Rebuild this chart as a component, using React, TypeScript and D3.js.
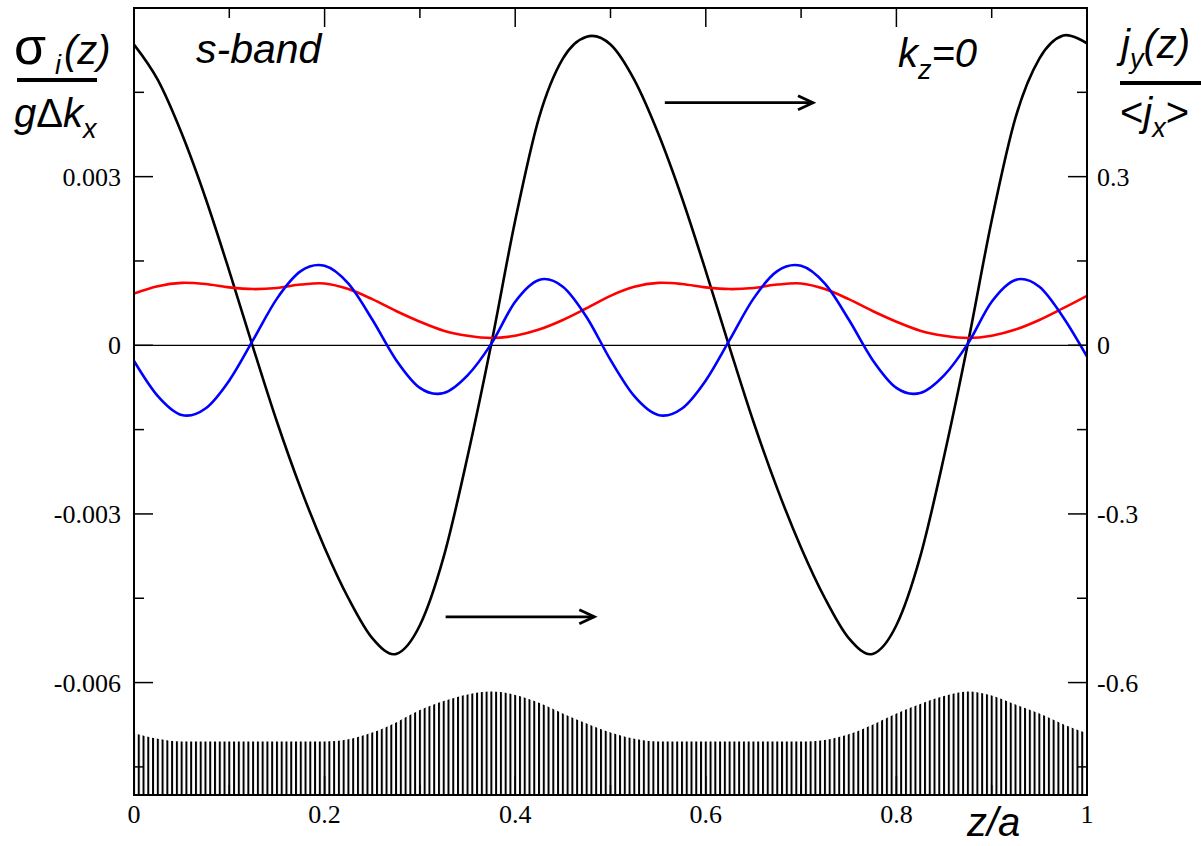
import React from 'react';
import * as d3 from 'd3';

// Sample positions along the unit cell (z/a)
const zSamples = [
  0, 0.025, 0.05, 0.075, 0.1, 0.125, 0.15, 0.175, 0.2, 0.225,
  0.25, 0.275, 0.3, 0.325, 0.35, 0.375, 0.4, 0.425, 0.45, 0.475,
  0.5, 0.525, 0.55, 0.575, 0.6, 0.625, 0.65, 0.675, 0.7, 0.725,
  0.75, 0.775, 0.8, 0.825, 0.85, 0.875, 0.9, 0.925, 0.95, 0.975, 1,
];

// Current density j_y(z)/<j_x> (right axis)
const currentJy = [
  0.535, 0.472, 0.377, 0.262, 0.132, -0.004, -0.136, -0.255, -0.36, -0.45,
  -0.521, -0.549, -0.498, -0.376, -0.198, 0.003, 0.222, 0.405, 0.51, 0.549,
  0.535, 0.472, 0.377, 0.262, 0.132, -0.004, -0.136, -0.255, -0.36, -0.45,
  -0.521, -0.549, -0.498, -0.376, -0.198, 0.003, 0.222, 0.405, 0.51, 0.551, 0.537,
];

// Spin-Hall conductivity component (blue, left axis)
const sigmaBlue = [
  -0.00028, -0.000905, -0.00124, -0.001125, -0.000625, 0.000095, 0.00083, 0.001318, 0.001413, 0.001095,
  0.000458, -0.00026, -0.000758, -0.000849, -0.000535, 0.00003, 0.000775, 0.001163, 0.001042, 0.0005,
  -0.00026, -0.000905, -0.00124, -0.001125, -0.000625, 0.000095, 0.00083, 0.001318, 0.001413, 0.001095,
  0.000458, -0.00026, -0.000758, -0.000849, -0.000535, 0.00003, 0.000775, 0.001163, 0.001042, 0.0005, -0.0002,
];

// Spin-Hall conductivity component (red, left axis)
const sigmaRed = [
  0.00092, 0.00105, 0.00111, 0.00109, 0.00103, 0.001, 0.00102, 0.00108, 0.0011, 0.001,
  0.00082, 0.00061, 0.00042, 0.00026, 0.00017, 0.00013, 0.00017, 0.00028, 0.00045, 0.00066,
  0.00088, 0.00104, 0.00111, 0.00109, 0.00103, 0.001, 0.00102, 0.00108, 0.0011, 0.001,
  0.00082, 0.00061, 0.00042, 0.00026, 0.00017, 0.00013, 0.00017, 0.00028, 0.00045, 0.00066, 0.00088,
];

// Lattice density profile drawn as a hatched band at the bottom (left-axis units)
const densityProfile = [
  -0.0069, -0.007, -0.00705, -0.00705, -0.00705, -0.00705, -0.00705, -0.00705, -0.00705, -0.00701,
  -0.00689, -0.00671, -0.00649, -0.00633, -0.00621, -0.00616, -0.00622, -0.00636, -0.00655, -0.00673,
  -0.00689, -0.007, -0.00705, -0.00705, -0.00705, -0.00705, -0.00705, -0.00705, -0.00705, -0.00702,
  -0.00692, -0.00675, -0.00655, -0.00638, -0.00624, -0.00616, -0.00623, -0.00639, -0.00655, -0.00674, -0.0069,
];

// Axis ticks
const xMajor = [0, 0.2, 0.4, 0.6, 0.8, 1];
const xMajorLabels = ['0', '0.2', '0.4', '0.6', '0.8', '1'];
const xMinor = [0.1, 0.3, 0.5, 0.7, 0.9];
const leftMajor = [-0.006, -0.003, 0, 0.003];
const leftMajorLabels = ['-0.006', '-0.003', '0', '0.003'];
const leftMinor = [-0.0075, -0.0045, -0.0015, 0.0015, 0.0045];
const rightMajor = [-0.6, -0.3, 0, 0.3];
const rightMajorLabels = ['-0.6', '-0.3', '0', '0.3'];
const rightMinor = [-0.75, -0.45, -0.15, 0.15, 0.45];

// Arrows pointing to the right-hand axis (right-axis units)
const arrowStart = [0.327, 0.557];
const arrowEnd = [0.483, 0.7125];
const arrowLevel = [-0.483, 0.4315];

const W = 1201;
const H = 846;
const L = 134, R = 1087, T = 8, B = 795;

export default function App() {
  const x = d3.scaleLinear().domain([0, 1]).range([L, R]);
  const yL = d3.scaleLinear().domain([-0.008, 0.006]).range([B, T]);
  const yR = d3.scaleLinear().domain([-0.8, 0.6]).range([B, T]);

  const idx = zSamples.map((_, i) => i);
  const smooth = d3.curveCardinal.tension(0);
  const lineL = (vals: number[]) =>
    d3.line<number>().x(i => x(zSamples[i])).y(i => yL(vals[i])).curve(smooth)(idx) || '';
  const lineR = (vals: number[]) =>
    d3.line<number>().x(i => x(zSamples[i])).y(i => yR(vals[i])).curve(smooth)(idx) || '';
  const band = d3.area<number>()
    .x(i => x(zSamples[i]))
    .y0(yL(-0.008))
    .y1(i => yL(densityProfile[i]))
    .curve(d3.curveMonotoneX)(idx) || '';

  const hatchStep = x(0.005) - x(0);
  const sans = "'Liberation Sans', Arial, Helvetica, sans-serif";
  const serif = "'Liberation Serif', 'Times New Roman', Times, serif";
  const majorLen = 19, minorLen = 10;

  return (
    <svg width={W} height={H} viewBox={`0 0 ${W} ${H}`}
      style={{ position: 'absolute', left: 0, top: 0, display: 'block', background: '#fff' }}>
      <defs>
        <pattern id="hatch" patternUnits="userSpaceOnUse" x={L - 1} y={0} width={hatchStep} height={H}>
          <rect x={0} y={0} width={2} height={H} fill="#000" />
        </pattern>
        <clipPath id="plotClip">
          <rect x={L} y={T} width={R - L} height={B - T} />
        </clipPath>
      </defs>
      <rect x={0} y={0} width={W} height={H} fill="#fff" />

      <g clipPath="url(#plotClip)">
        <path d={band} fill="url(#hatch)" />
        <line x1={L} x2={R} y1={yL(0)} y2={yL(0)} stroke="#000" strokeWidth={1.3} />
        <path d={lineR(currentJy)} fill="none" stroke="#000" strokeWidth={2.6} />
        <path d={lineL(sigmaRed)} fill="none" stroke="#ff0000" strokeWidth={2.6} />
        <path d={lineL(sigmaBlue)} fill="none" stroke="#0000ff" strokeWidth={2.6} />
      </g>

      {/* arrows */}
      {arrowStart.map((s, i) => {
        const x0 = x(s), x1 = x(arrowEnd[i]), yy = yR(arrowLevel[i]);
        return (
          <g key={`arr${i}`} stroke="#000" strokeWidth={2.8} fill="none">
            <line x1={x0} x2={x1} y1={yy} y2={yy} />
            <polyline points={`${x1 - 15},${yy - 7} ${x1},${yy} ${x1 - 15},${yy + 7}`} />
          </g>
        );
      })}

      {/* frame */}
      <rect x={L} y={T} width={R - L} height={B - T} fill="none" stroke="#000" strokeWidth={2} />

      {/* ticks on all four sides, pointing inward */}
      <g stroke="#000" strokeWidth={1.5}>
        {xMajor.map(v => (
          <g key={`xm${v}`}>
            <line x1={x(v)} x2={x(v)} y1={B} y2={B - majorLen} />
            <line x1={x(v)} x2={x(v)} y1={T} y2={T + majorLen} />
          </g>
        ))}
        {xMinor.map(v => (
          <g key={`xn${v}`}>
            <line x1={x(v)} x2={x(v)} y1={B} y2={B - minorLen} />
            <line x1={x(v)} x2={x(v)} y1={T} y2={T + minorLen} />
          </g>
        ))}
        {leftMajor.map(v => (
          <line key={`lm${v}`} x1={L} x2={L + majorLen} y1={yL(v)} y2={yL(v)} />
        ))}
        {leftMinor.map(v => (
          <line key={`ln${v}`} x1={L} x2={L + minorLen} y1={yL(v)} y2={yL(v)} />
        ))}
        {rightMajor.map(v => (
          <line key={`rm${v}`} x1={R} x2={R - majorLen} y1={yR(v)} y2={yR(v)} />
        ))}
        {rightMinor.map(v => (
          <line key={`rn${v}`} x1={R} x2={R - minorLen} y1={yR(v)} y2={yR(v)} />
        ))}
      </g>

      {/* tick labels */}
      <g fontFamily={serif} fontSize={26} fill="#000">
        {xMajor.map((v, i) => (
          <text key={`xl${v}`} x={x(v)} y={823} textAnchor="middle">{xMajorLabels[i]}</text>
        ))}
        {leftMajor.map((v, i) => (
          <text key={`ll${v}`} x={121} y={yL(v) + 9} textAnchor="end">{leftMajorLabels[i]}</text>
        ))}
        {rightMajor.map((v, i) => (
          <text key={`rl${v}`} x={1097} y={yR(v) + 9} textAnchor="start">{rightMajorLabels[i]}</text>
        ))}
      </g>

      {/* left axis title */}
      <g fontFamily={sans} fill="#000">
        <text x={14} y={64} fontSize={52}>σ</text>
        <text x={55} y={74} fontSize={27} fontStyle="italic">i</text>
        <text x={64} y={64} fontSize={40} fontStyle="italic">(z)</text>
        <rect x={17} y={78} width={80} height={4} />
        <text x={14} y={127} fontSize={40}>
          <tspan fontStyle="italic">g</tspan>
          <tspan>Δ</tspan>
          <tspan fontStyle="italic">k</tspan>
          <tspan fontStyle="italic" fontSize={27} dy={11}>x</tspan>
        </text>
      </g>

      {/* right axis title */}
      <g fontFamily={sans} fill="#000">
        <text x={1121} y={58} fontSize={40}>
          <tspan fontStyle="italic">j</tspan>
          <tspan fontStyle="italic" fontSize={27} dy={10}>y</tspan>
          <tspan fontStyle="italic" dy={-10}>(z)</tspan>
        </text>
        <rect x={1120} y={81} width={81} height={4} />
        <text x={1120} y={126} fontSize={40}>
          <tspan>&lt;</tspan>
          <tspan fontStyle="italic">j</tspan>
          <tspan fontStyle="italic" fontSize={27} dy={11}>x</tspan>
          <tspan dy={-11}>&gt;</tspan>
        </text>
      </g>

      {/* in-plot annotations */}
      <g fontFamily={sans} fill="#000" fontStyle="italic">
        <text x={196} y={63} fontSize={41}>s-band</text>
        <text x={898} y={67} fontSize={40}>
          <tspan>k</tspan>
          <tspan fontSize={27} dy={12}>z</tspan>
          <tspan dy={-12}>=0</tspan>
        </text>
        <text x={967} y={836} fontSize={40}>z/a</text>
      </g>
    </svg>
  );
}
